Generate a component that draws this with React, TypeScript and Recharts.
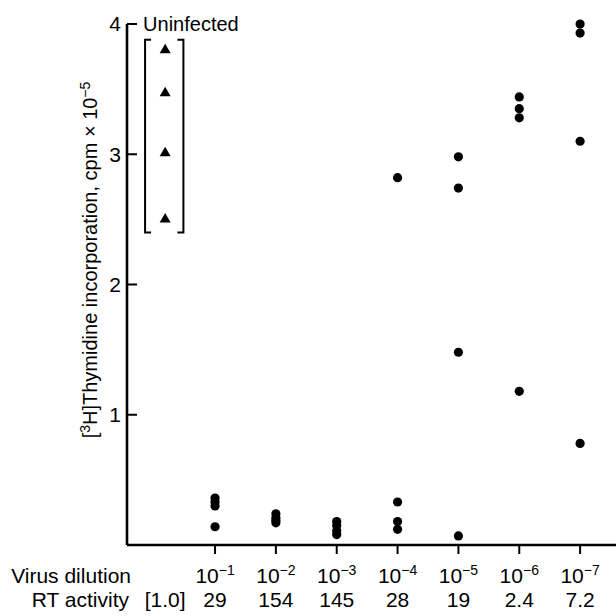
import { ScatterChart, Scatter, XAxis, YAxis, ReferenceArea, Label } from 'recharts';

const FONT = '"Liberation Sans", Arial, Helvetica, sans-serif';

// x slots: the uninfected control sits left of the first dilution
const xSlots = [0.18, 1, 2, 3, 4, 5, 6, 7];
const dilutionExponents = [null, 1, 2, 3, 4, 5, 6, 7];
const rtActivity = ['[1.0]', '29', '154', '145', '28', '19', '2.4', '7.2'];
const yTicks = [1, 2, 3, 4];

const uninfected = [3.81, 3.48, 3.02, 2.51];
const infected = [
  [0.36, 0.33, 0.3, 0.14],
  [0.24, 0.21, 0.19, 0.17],
  [0.18, 0.15, 0.11, 0.08],
  [2.82, 0.33, 0.18, 0.12],
  [2.98, 2.74, 1.48, 0.07],
  [3.44, 3.35, 3.28, 1.18],
  [4.0, 3.93, 3.1, 0.78],
];

const controlPoints = uninfected.map((y) => ({ x: xSlots[0], y }));
const infectedPoints = infected.flatMap((vals, i) => vals.map((y) => ({ x: xSlots[i + 1], y })));

const Dot = (props: any) => <circle cx={props.cx} cy={props.cy} r={4.6} fill="#000" />;

const Triangle = (props: any) => {
  const { cx, cy } = props;
  return <polygon points={`${cx},${cy - 5} ${cx - 5.5},${cy + 4.5} ${cx + 5.5},${cy + 4.5}`} fill="#000" />;
};

const YTick = (props: any) => {
  const { x, y, payload } = props;
  return (
    <g>
      <line x1={x + 6} y1={y} x2={x + 16} y2={y} stroke="#000" strokeWidth={2} />
      <text x={x} y={y} dy="0.35em" textAnchor="end" fontFamily={FONT} fontSize={21} fill="#000">
        {payload.value}
      </text>
    </g>
  );
};

const XTick = (props: any) => {
  const { x, y, payload } = props;
  const i = xSlots.indexOf(payload.value);
  const exp = dilutionExponents[i];
  return (
    <g>
      {exp !== null && <line x1={x} y1={y - 9} x2={x} y2={y} stroke="#000" strokeWidth={2} />}
      {exp !== null && (
        <text x={x} y={y + 29} textAnchor="middle" fontFamily={FONT} fontSize={21} fill="#000">
          10
          <tspan dy={-8} fontSize={14}>{`\u2212${exp}`}</tspan>
        </text>
      )}
      <text x={x} y={y + 53} textAnchor="middle" fontFamily={FONT} fontSize={21} fill="#000">
        {rtActivity[i]}
      </text>
    </g>
  );
};

const Bracket = (props: any) => {
  const { x, y, width, height } = props;
  const s = 6;
  const r = x + width;
  const b = y + height;
  return (
    <g>
      <path
        d={`M${x + s},${y} H${x} V${b} H${x + s} M${r - s},${y} H${r} V${b} H${r - s}`}
        fill="none"
        stroke="#000"
        strokeWidth={2}
      />
      <text x={x - 2} y={y - 9} fontFamily={FONT} fontSize={20} fill="#000">
        Uninfected
      </text>
    </g>
  );
};

const YLabel = () => (
  <text
    x={97}
    y={260}
    transform="rotate(-90 97 260)"
    textAnchor="middle"
    fontFamily={FONT}
    fontSize={20}
    fill="#000"
  >
    [<tspan dy={-7} fontSize={14}>3</tspan>
    <tspan dy={7}>H]Thymidine incorporation, cpm × 10</tspan>
    <tspan dy={-7} fontSize={14}>−5</tspan>
  </text>
);

export default function App() {
  return (
    <div style={{ position: 'absolute', left: 0, top: 0, width: 616, height: 616, background: '#fff' }}>
      <ScatterChart width={616} height={616} margin={{ top: 24, right: 0, bottom: 0, left: 0 }}>
        <XAxis
          type="number"
          dataKey="x"
          domain={[-0.447, 7.59]}
          ticks={xSlots}
          interval={0}
          height={71}
          tickSize={9}
          tickMargin={0}
          tickLine={false}
          axisLine={{ stroke: '#000', strokeWidth: 2.6 }}
          tick={<XTick />}
        />
        <YAxis
          type="number"
          dataKey="y"
          domain={[0, 4]}
          ticks={yTicks}
          width={127}
          tickSize={0}
          tickMargin={6}
          tickLine={false}
          axisLine={{ stroke: '#000', strokeWidth: 2.6 }}
          tick={<YTick />}
        >
          <Label content={<YLabel />} />
        </YAxis>
        <ReferenceArea x1={-0.15} x2={0.48} y1={2.4} y2={3.88} shape={<Bracket />} />
        <Scatter data={controlPoints} shape={<Triangle />} isAnimationActive={false} />
        <Scatter data={infectedPoints} shape={<Dot />} isAnimationActive={false} />
      </ScatterChart>
      <svg width={616} height={616} style={{ position: 'absolute', left: 0, top: 0, pointerEvents: 'none' }}>
        <text x={131} y={583} textAnchor="end" fontFamily={FONT} fontSize={21} fill="#000">
          Virus dilution
        </text>
        <text x={129} y={607} textAnchor="end" fontFamily={FONT} fontSize={21} fill="#000">
          RT activity
        </text>
      </svg>
    </div>
  );
}
